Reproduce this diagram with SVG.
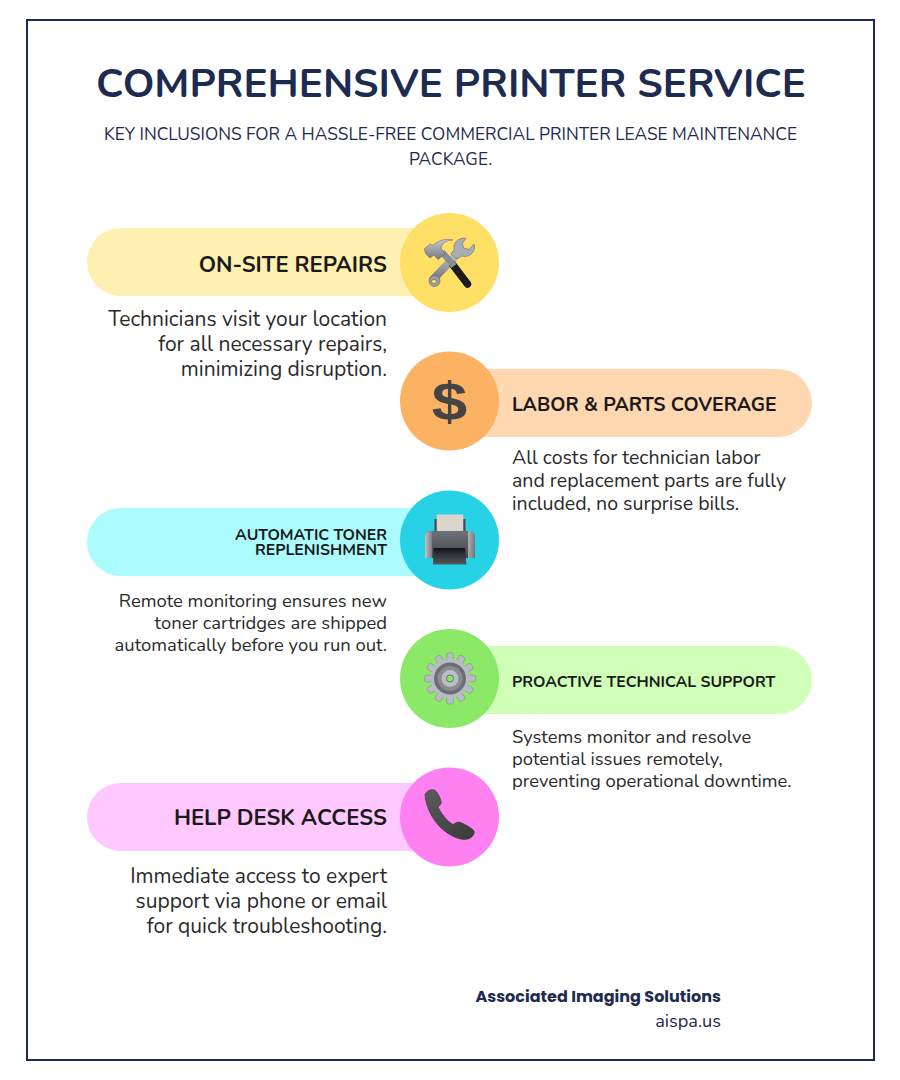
<svg xmlns="http://www.w3.org/2000/svg" width="900" height="1080" viewBox="0 0 900 1080">
<style>
.n{font-family:"Nunito","Lato","Noto Sans",sans-serif;fill:#2a2a2a}
.p{font-family:"Poppins","Inter","Liberation Sans",sans-serif;font-weight:700;fill:#1e2b50}
.h{font-weight:700;fill:#1a1a1a}
.e{text-anchor:end}
.nv{fill:#1e2b50}
</style>
<defs>
<linearGradient id="metal" x1="0" y1="0" x2="0" y2="1"><stop offset="0" stop-color="#c8cacf"/><stop offset="1" stop-color="#74777e"/></linearGradient>
<linearGradient id="body" x1="0" y1="0" x2="0" y2="1"><stop offset="0" stop-color="#6e7177"/><stop offset="1" stop-color="#44474c"/></linearGradient>
<linearGradient id="side" x1="0" y1="0" x2="1" y2="0"><stop offset="0" stop-color="#c0c3c8"/><stop offset="1" stop-color="#7a7d83"/></linearGradient>
<linearGradient id="tray" x1="0" y1="0" x2="0" y2="1"><stop offset="0" stop-color="#0f1012"/><stop offset=".3" stop-color="#2a2b2f"/><stop offset="1" stop-color="#55575c"/></linearGradient>
<linearGradient id="phone" x1="0" y1="0" x2="1" y2="1"><stop offset="0" stop-color="#5c5c5c"/><stop offset="1" stop-color="#3a3a3a"/></linearGradient>
<rect id="tooth" x="-3.400" y="-25.500" width="6.800" height="9" rx="2" fill="#b8bac4" stroke="#75767e" stroke-width=".4"/>
</defs>
<rect width="900" height="1080" fill="#fff"/>
<rect x="27" y="20" width="847" height="1040" fill="#fff" stroke="#1e2b50" stroke-width="2"/>
<g id="header">
<text class="n nv" x="451" y="97" text-anchor="middle" font-size="40.400" font-weight="700">COMPREHENSIVE PRINTER SERVICE</text>
<text class="n nv" x="450.500" y="140" text-anchor="middle" font-size="17.300">KEY INCLUSIONS FOR A HASSLE-FREE COMMERCIAL PRINTER LEASE MAINTENANCE</text>
<text class="n nv" x="450.500" y="165" text-anchor="middle" font-size="17.300">PACKAGE.</text>
</g>
<g id="node-repairs">
<path d="M121 228H420V296H121a34 34 0 0 1 0-68z" fill="#fef0b0"/>
<circle cx="449.500" cy="262.500" r="49.500" fill="#ffe066"/>
<g>
<path d="M459 252L433.500 279" stroke="url(#metal)" stroke-width="8" fill="none" stroke-linecap="round"/>
<path d="M461 238.500C456 240 453 244.500 454 249.500L451 254L457 259L462 256C467 257.500 472 255 474 250C474.800 248 474.800 246 474 244L469 249.500L463.500 248L462.500 243.500L466 238.500C464.500 238 462.500 238 461 238.500z" fill="#a9acb2" stroke="#696c72" stroke-width=".6"/>
<circle cx="434.500" cy="281" r="5.500" fill="#9a9da3" stroke="#63666c" stroke-width=".6"/>
<ellipse cx="434" cy="281.500" rx="2.600" ry="2" fill="#ffe066" stroke="#4b4d52" stroke-width=".5"/>
<path d="M453 265L467.500 284" stroke="#1c1c1e" stroke-width="7.500" fill="none" stroke-linecap="round"/>
<path d="M442 252L454 266" stroke="#8a8d93" stroke-width="6.500" fill="none"/>
<path d="M425 252L424.500 248.500L430.500 244L433 245.500C438 240.500 446 238 453 240C446 240.500 442 243 441 248L445 254L438 259.500L434 255L430 258L426 254z" fill="url(#metal)" stroke="#696c72" stroke-width=".6"/>
</g>
</g>
<g id="node-labor">
<path d="M480 369H778a34 34 0 0 1 0 68H480z" fill="#ffd8b2"/>
<circle cx="449.500" cy="401" r="49.500" fill="#fbb263"/>
<text transform="translate(449.500 420) scale(1.180 1)" text-anchor="middle" font-family="'Liberation Sans',sans-serif" font-weight="700" font-size="54" fill="#444">$</text>
</g>
<g id="node-toner">
<path d="M121 508H420V576H121a34 34 0 0 1 0-68z" fill="#acfcff"/>
<circle cx="449.500" cy="540" r="49.500" fill="#28d2e6"/>
<g>
<rect x="434.500" y="519" width="31" height="14" fill="#44474c"/>
<rect x="436.700" y="514.500" width="26.600" height="18" fill="#d9d5cc"/>
<path d="M431 531H469C473 531 475 534 475 538V558H425V537C425 533 427 531 431 531z" fill="url(#body)"/>
<path d="M425 558V537C425 533 427 531 431 531H432V558z" fill="url(#side)"/>
<path d="M475 558V537C475 533 473 531 469 531H468V558z" fill="url(#side)" opacity=".8"/>
<path d="M433.500 548H465L466.500 564.500H433z" fill="url(#tray)"/>
</g>
</g>
<g id="node-support">
<path d="M480 646H778a34 34 0 0 1 0 68H480z" fill="#d0ffb8"/>
<circle cx="449.500" cy="678.500" r="49.500" fill="#8ce968"/>
<g transform="translate(450 678.500)">
<use href="#tooth"/><use href="#tooth" transform="rotate(30)"/><use href="#tooth" transform="rotate(60)"/><use href="#tooth" transform="rotate(90)"/><use href="#tooth" transform="rotate(120)"/><use href="#tooth" transform="rotate(150)"/><use href="#tooth" transform="rotate(180)"/><use href="#tooth" transform="rotate(210)"/><use href="#tooth" transform="rotate(240)"/><use href="#tooth" transform="rotate(270)"/><use href="#tooth" transform="rotate(300)"/><use href="#tooth" transform="rotate(330)"/>
<circle r="19.500" fill="#b8bac4"/>
<circle r="16" fill="#6c6e74"/>
<circle r="12.500" fill="#8a8c92"/>
<circle r="8.500" fill="#bcbec6"/>
<circle r="3.500" fill="#8ce968" stroke="#55575c" stroke-width=".8"/>
</g>
</g>
<g id="node-help">
<path d="M121 783H420V851H121a34 34 0 0 1 0-68z" fill="#ffc8ff"/>
<circle cx="449.500" cy="817" r="49.500" fill="#ff80f0"/>
<path d="M425 795C426 791 431 789 434 790C437 791 440 797 441 801C442 804 439 806 438 807C441 813 446 820 452 824C454 825 456 822 459 822C463 823 472 828 474 831C475 834 472 838 468 839C460 841 450 836 441 828C433 820 426 808 425 795z" fill="url(#phone)" stroke="#333" stroke-width=".6"/>
</g>
<g id="connectors"></g>
<g id="labels">
<text class="n h e" x="387" y="272" font-size="22">ON-SITE REPAIRS</text>
<text class="n e" x="387" y="326" font-size="21">Technicians visit your location</text>
<text class="n e" x="387" y="351" font-size="21">for all necessary repairs,</text>
<text class="n e" x="387" y="376" font-size="21">minimizing disruption.</text>
<text class="n h" x="512" y="411" font-size="19.350">LABOR &amp; PARTS COVERAGE</text>
<text class="n" x="512" y="464" font-size="19.550">All costs for technician labor</text>
<text class="n" x="512" y="487" font-size="19.550">and replacement parts are fully</text>
<text class="n" x="512" y="510" font-size="19.550">included, no surprise bills.</text>
<text class="n h e" x="387" y="540" font-size="15.800">AUTOMATIC TONER</text>
<text class="n h e" x="387" y="554.500" font-size="15.800">REPLENISHMENT</text>
<text class="n e" x="387" y="607" font-size="18.450">Remote monitoring ensures new</text>
<text class="n e" x="387" y="629" font-size="18.450">toner cartridges are shipped</text>
<text class="n e" x="387" y="651" font-size="18.450">automatically before you run out.</text>
<text class="n h" x="512" y="687" font-size="15.800">PROACTIVE TECHNICAL SUPPORT</text>
<text class="n" x="512" y="743" font-size="18.450">Systems monitor and resolve</text>
<text class="n" x="512" y="765" font-size="18.450">potential issues remotely,</text>
<text class="n" x="512" y="787" font-size="18.450">preventing operational downtime.</text>
<text class="n h e" x="387" y="825" font-size="22">HELP DESK ACCESS</text>
<text class="n e" x="387" y="882.500" font-size="21">Immediate access to expert</text>
<text class="n e" x="387" y="907.500" font-size="21">support via phone or email</text>
<text class="n e" x="387" y="932.500" font-size="21">for quick troubleshooting.</text>
</g>
<g id="footer">
<text class="p e" x="721" y="1002" font-size="16">Associated Imaging Solutions</text>
<text class="n nv e" x="721" y="1027" font-size="18.200">aispa.us</text>
</g>
</svg>
